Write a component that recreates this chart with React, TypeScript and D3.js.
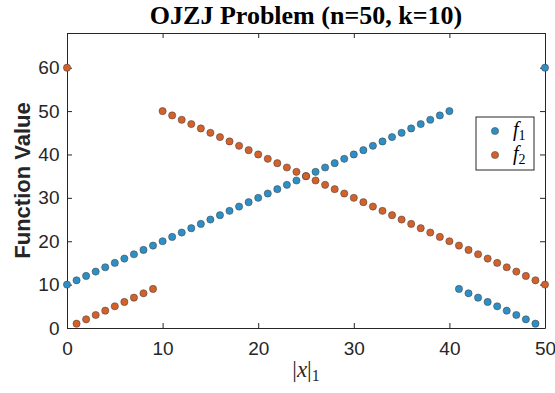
import React, { useRef, useEffect } from 'react';
import * as d3 from 'd3';

// |x|_1 values 0..50
const onesCount = [
  0, 1, 2, 3, 4, 5, 6, 7, 8, 9, 10, 11, 12, 13, 14, 15, 16, 17, 18, 19, 20, 21, 22, 23, 24, 25,
  26, 27, 28, 29, 30, 31, 32, 33, 34, 35, 36, 37, 38, 39, 40, 41, 42, 43, 44, 45, 46, 47, 48, 49, 50,
];

const f1Values = [
  10, 11, 12, 13, 14, 15, 16, 17, 18, 19, 20, 21, 22, 23, 24, 25, 26, 27, 28, 29, 30, 31, 32, 33, 34, 35,
  36, 37, 38, 39, 40, 41, 42, 43, 44, 45, 46, 47, 48, 49, 50, 9, 8, 7, 6, 5, 4, 3, 2, 1, 60,
];

const f2Values = [
  60, 1, 2, 3, 4, 5, 6, 7, 8, 9, 50, 49, 48, 47, 46, 45, 44, 43, 42, 41, 40, 39, 38, 37, 36, 35,
  34, 33, 32, 31, 30, 29, 28, 27, 26, 25, 24, 23, 22, 21, 20, 19, 18, 17, 16, 15, 14, 13, 12, 11, 10,
];

const xTicks = [0, 10, 20, 30, 40, 50];
const yTicks = [0, 10, 20, 30, 40, 50, 60];

const seriesColours = ['#2e8fc6', '#d3612b'];

const OJZJChart: React.FC = () => {
  const svgRef = useRef<SVGSVGElement | null>(null);

  useEffect(() => {
    if (!svgRef.current) return;
    const width = 555;
    const height = 393;
    const margin = { top: 33, right: 10, bottom: 65, left: 67 };
    const innerW = width - margin.left - margin.right;
    const innerH = height - margin.top - margin.bottom;

    const svg = d3.select(svgRef.current)
      .attr('width', width)
      .attr('height', height)
      .style('display', 'block')
      .style('overflow', 'visible');
    svg.selectAll('*').remove();

    const x = d3.scaleLinear().domain([0, 50]).range([0, innerW]);
    const y = d3.scaleLinear().domain([0, 68]).range([innerH, 0]);

    const g = svg.append('g').attr('transform', `translate(${margin.left},${margin.top})`);

    g.append('rect')
      .attr('width', innerW).attr('height', innerH)
      .attr('fill', 'white');

    const axisColour = '#262626';
    const tickFont = '"Liberation Sans", Arial, sans-serif';
    const serif = '"Liberation Serif", "Times New Roman", serif';

    // bottom axis
    const xAxis = g.append('g')
      .attr('transform', `translate(0,${innerH})`)
      .call(d3.axisBottom(x).tickValues(xTicks).tickSizeInner(-5).tickSizeOuter(0).tickPadding(14));
    // left axis
    const yAxis = g.append('g')
      .call(d3.axisLeft(y).tickValues(yTicks).tickSizeInner(-5).tickSizeOuter(0).tickPadding(7.5));
    // top and right (box)
    const xTop = g.append('g')
      .call(d3.axisTop(x).tickValues(xTicks).tickSizeInner(-5).tickSizeOuter(0).tickFormat(() => ''));
    const yRight = g.append('g')
      .attr('transform', `translate(${innerW},0)`)
      .call(d3.axisRight(y).tickValues(yTicks).tickSizeInner(-5).tickSizeOuter(0).tickFormat(() => ''));

    [xAxis, yAxis, xTop, yRight].forEach(a => {
      a.select('.domain').attr('stroke', axisColour).attr('stroke-width', 1);
      a.selectAll('.tick line').attr('stroke', axisColour);
      a.selectAll('.tick text')
        .attr('fill', axisColour)
        .style('font-family', tickFont)
        .style('font-size', '19px');
    });

    const seriesList = [f1Values, f2Values];
    seriesList.forEach((vals, si) => {
      g.append('g').selectAll('circle')
        .data(onesCount)
        .enter().append('circle')
        .attr('cx', d => x(d))
        .attr('cy', (d, i) => y(vals[i]))
        .attr('r', 3.6)
        .attr('fill', seriesColours[si])
        .attr('stroke', '#3a3a3a')
        .attr('stroke-width', 0.5);
    });

    // title
    svg.append('text')
      .attr('x', margin.left + innerW / 2)
      .attr('y', 24)
      .attr('text-anchor', 'middle')
      .style('font-family', serif)
      .style('font-weight', 'bold')
      .style('font-size', '26px')
      .attr('fill', '#000')
      .text('OJZJ Problem (n=50, k=10)');

    // y label
    svg.append('text')
      .attr('transform', `translate(30,${margin.top + innerH / 2}) rotate(-90)`)
      .attr('text-anchor', 'middle')
      .style('font-family', tickFont)
      .style('font-weight', 'bold')
      .style('font-size', '22px')
      .attr('fill', axisColour)
      .text('Function Value');

    // x label |x|_1
    const xl = svg.append('text')
      .attr('x', margin.left + innerW / 2)
      .attr('y', 377)
      .attr('text-anchor', 'middle')
      .style('font-family', serif)
      .style('font-size', '23px')
      .attr('fill', axisColour);
    xl.append('tspan').text('|');
    xl.append('tspan').style('font-style', 'italic').text('x');
    xl.append('tspan').text('|');
    xl.append('tspan').attr('dy', 4).style('font-size', '16px').text('1');

    // legend
    const lg = svg.append('g').attr('transform', 'translate(476,117)');
    lg.append('rect')
      .attr('width', 58).attr('height', 53)
      .attr('fill', 'white')
      .attr('stroke', axisColour)
      .attr('stroke-width', 1);
    ['f', 'f'].forEach((label, i) => {
      const cy = 14 + i * 24;
      lg.append('circle')
        .attr('cx', 19).attr('cy', cy).attr('r', 3.6)
        .attr('fill', seriesColours[i])
        .attr('stroke', '#3a3a3a').attr('stroke-width', 0.5);
      const t = lg.append('text')
        .attr('x', 37).attr('y', cy + 5)
        .style('font-family', serif)
        .style('font-size', '20px')
        .attr('fill', '#000');
      t.append('tspan').style('font-style', 'italic').text(label);
      t.append('tspan').attr('dy', 4).style('font-size', '14px').text(String(i + 1));
    });
  }, []);

  return <svg ref={svgRef}></svg>;
};

export default function App() {
  return (
    <div style={{ position: 'absolute', left: 0, top: 0 }}>
      <OJZJChart />
    </div>
  );
}
